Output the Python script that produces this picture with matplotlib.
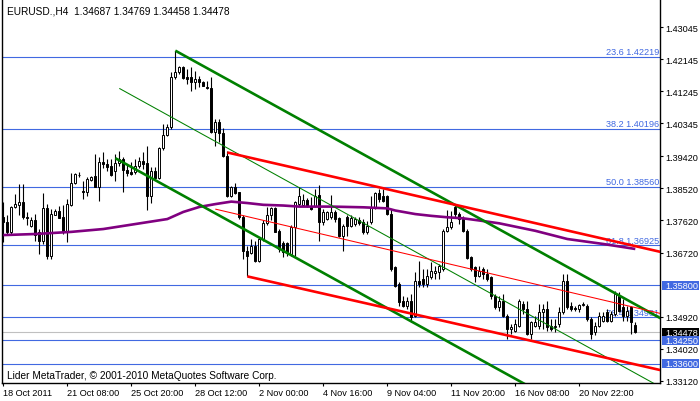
import numpy as np
import matplotlib
matplotlib.use("Agg")
import matplotlib.pyplot as plt
import matplotlib.transforms as mtransforms
from matplotlib.patches import Rectangle


# ── data (EURUSD H4) ─────────────────────────────────────────────────────────
opens = [
    1.3771, 1.3757, 1.3729, 1.3799, 1.3806, 1.3813, 1.3771, 1.3746, 1.3762, 1.3729,
    1.3705, 1.3796, 1.3663, 1.3777, 1.3788, 1.3771, 1.3729, 1.3806, 1.3867, 1.3890,
    1.3846, 1.3843, 1.3877, 1.3888, 1.3857, 1.3925, 1.3921, 1.3916, 1.3902, 1.3923,
    1.3935, 1.3904, 1.3897, 1.3897, 1.3916, 1.3930, 1.3924, 1.3832, 1.3900, 1.3881,
    1.3965, 1.4002, 1.4024, 1.4164, 1.4178, 1.4192, 1.4164, 1.4164, 1.4152, 1.4159,
    1.4152, 1.4138, 1.4133, 1.4010, 1.4038, 1.4008, 1.3944, 1.3832, 1.3855, 1.3841,
    1.3771, 1.3675, 1.3672, 1.3691, 1.3649, 1.3710, 1.3755, 1.3776, 1.3796, 1.3733,
    1.3698, 1.3698, 1.3668, 1.3743, 1.3808, 1.3806, 1.3820, 1.3804, 1.3804, 1.3834,
    1.3757, 1.3766, 1.3771, 1.3785, 1.3768, 1.3719, 1.3771, 1.3747, 1.3752, 1.3762,
    1.3757, 1.3729, 1.3757, 1.3799, 1.3839, 1.3832, 1.3832, 1.3780, 1.3630, 1.3584,
    1.3537, 1.3523, 1.3537, 1.3495, 1.3593, 1.3598, 1.3584, 1.3602, 1.3614, 1.3616,
    1.3626, 1.3733, 1.3743, 1.3799, 1.3780, 1.3766, 1.3733, 1.3659, 1.3630, 1.3607,
    1.3626, 1.3612, 1.3602, 1.3551, 1.3518, 1.3537, 1.3495, 1.3457, 1.3453, 1.3467,
    1.3528, 1.3514, 1.3443, 1.3467, 1.3465, 1.3504, 1.3514, 1.3467, 1.3462, 1.3471,
    1.3504, 1.3593, 1.3523, 1.3516, 1.3514, 1.3525, 1.3523, 1.3485, 1.3448, 1.3467,
    1.3481, 1.3504, 1.3481, 1.3500, 1.3551, 1.3518, 1.3495, 1.3518, 1.34687,
]
highs = [
    1.3813, 1.3776, 1.3804, 1.3836, 1.3865, 1.3865, 1.3785, 1.3771, 1.3780, 1.3738,
    1.3838, 1.3808, 1.3794, 1.3794, 1.3804, 1.3806, 1.3822, 1.3894, 1.3895, 1.3897,
    1.3874, 1.3883, 1.3888, 1.3949, 1.3939, 1.3953, 1.3935, 1.3935, 1.3949, 1.3958,
    1.3939, 1.3921, 1.3925, 1.3935, 1.3939, 1.3953, 1.3970, 1.3911, 1.3911, 1.3967,
    1.4033, 1.4033, 1.4178, 1.4239, 1.4197, 1.4197, 1.4187, 1.4192, 1.4183, 1.4169,
    1.4155, 1.4155, 1.4164, 1.4047, 1.4047, 1.4021, 1.3958, 1.3860, 1.3867, 1.3843,
    1.3776, 1.3691, 1.3710, 1.3705, 1.3715, 1.3762, 1.3799, 1.3799, 1.3799, 1.3738,
    1.3705, 1.3701, 1.3748, 1.3818, 1.3855, 1.3837, 1.3824, 1.3827, 1.3851, 1.3862,
    1.3794, 1.3790, 1.3834, 1.3792, 1.3771, 1.3752, 1.3776, 1.3776, 1.3771, 1.3771,
    1.3766, 1.3761, 1.3832, 1.3841, 1.3850, 1.3850, 1.3834, 1.3794, 1.3635, 1.3588,
    1.3551, 1.3546, 1.3556, 1.3616, 1.3649, 1.3626, 1.3626, 1.3645, 1.3635, 1.3640,
    1.3738, 1.3792, 1.3790, 1.3808, 1.3785, 1.3775, 1.3738, 1.3663, 1.3635, 1.3635,
    1.3630, 1.3626, 1.3607, 1.3556, 1.3551, 1.3556, 1.3500, 1.3471, 1.3485, 1.3542,
    1.3537, 1.3537, 1.3481, 1.3495, 1.3528, 1.3528, 1.3537, 1.3485, 1.3485, 1.3518,
    1.3612, 1.3612, 1.3532, 1.3523, 1.3528, 1.3532, 1.3528, 1.3490, 1.3476, 1.3504,
    1.3504, 1.3514, 1.3509, 1.3565, 1.3560, 1.3542, 1.3523, 1.3523, 1.34769,
]
lows = [
    1.3701, 1.3724, 1.3724, 1.3796, 1.3776, 1.3766, 1.3748, 1.3743, 1.3705, 1.3668,
    1.3696, 1.3654, 1.3654, 1.3776, 1.3768, 1.3724, 1.3701, 1.3804, 1.3865, 1.3883,
    1.3822, 1.3832, 1.3874, 1.3855, 1.3818, 1.3909, 1.3902, 1.3888, 1.3874, 1.3916,
    1.3843, 1.3888, 1.3890, 1.3893, 1.3909, 1.3907, 1.3792, 1.3811, 1.3878, 1.3879,
    1.3960, 1.4000, 1.4020, 1.4160, 1.4173, 1.4159, 1.4145, 1.4127, 1.4131, 1.4136,
    1.4139, 1.4131, 1.4008, 1.3972, 1.3982, 1.3939, 1.3827, 1.3827, 1.3837, 1.3766,
    1.3654, 1.3605, 1.3668, 1.3646, 1.3646, 1.3705, 1.3748, 1.3762, 1.3729, 1.3673,
    1.3659, 1.3663, 1.3663, 1.3663, 1.3804, 1.3804, 1.3799, 1.3792, 1.3799, 1.3705,
    1.3748, 1.3762, 1.3766, 1.3757, 1.3715, 1.3677, 1.3719, 1.3743, 1.3747, 1.3750,
    1.3724, 1.3724, 1.3752, 1.3794, 1.3813, 1.3813, 1.3778, 1.3621, 1.3574, 1.3523,
    1.3518, 1.3513, 1.3478, 1.3490, 1.3574, 1.3574, 1.3574, 1.3598, 1.3598, 1.3598,
    1.3621, 1.3729, 1.3738, 1.3771, 1.3752, 1.3729, 1.3654, 1.3621, 1.3588, 1.3602,
    1.3598, 1.3593, 1.3542, 1.3513, 1.3509, 1.3490, 1.3429, 1.3443, 1.3448, 1.3462,
    1.3500, 1.3439, 1.3429, 1.3462, 1.3457, 1.3457, 1.3453, 1.3453, 1.3448, 1.3462,
    1.3500, 1.3514, 1.3509, 1.3509, 1.3504, 1.3521, 1.3481, 1.3429, 1.3439, 1.3462,
    1.3476, 1.3476, 1.3476, 1.3495, 1.3504, 1.3481, 1.3481, 1.3443, 1.34458,
]
closes = [
    1.3757, 1.3729, 1.3799, 1.3808, 1.3813, 1.3771, 1.3768, 1.3762, 1.3721, 1.3705,
    1.3796, 1.3663, 1.3780, 1.3790, 1.3770, 1.3729, 1.3808, 1.3867, 1.3893, 1.3890,
    1.3841, 1.3879, 1.3883, 1.3857, 1.3925, 1.3921, 1.3911, 1.3890, 1.3923, 1.3935,
    1.3904, 1.3895, 1.3893, 1.3916, 1.3930, 1.3921, 1.3832, 1.3900, 1.3881, 1.3965,
    1.4002, 1.4024, 1.4164, 1.4178, 1.4192, 1.4161, 1.4159, 1.4152, 1.4159, 1.4152,
    1.4141, 1.4133, 1.4010, 1.4038, 1.4008, 1.3942, 1.3832, 1.3855, 1.3840, 1.3771,
    1.3675, 1.3663, 1.3691, 1.3649, 1.3710, 1.3755, 1.3776, 1.3796, 1.3731, 1.3682,
    1.3673, 1.3671, 1.3743, 1.3813, 1.3832, 1.3820, 1.3804, 1.3794, 1.3832, 1.3757,
    1.3785, 1.3787, 1.3785, 1.3766, 1.3719, 1.3747, 1.3747, 1.3768, 1.3766, 1.3754,
    1.3729, 1.3747, 1.3799, 1.3839, 1.3822, 1.3818, 1.3780, 1.3626, 1.3579, 1.3532,
    1.3521, 1.3537, 1.3490, 1.3593, 1.3584, 1.3584, 1.3607, 1.3621, 1.3621, 1.3635,
    1.3733, 1.3743, 1.3757, 1.3780, 1.3766, 1.3733, 1.3656, 1.3626, 1.3607, 1.3621,
    1.3612, 1.3598, 1.3551, 1.3518, 1.3537, 1.3495, 1.3457, 1.3462, 1.3471, 1.3537,
    1.3514, 1.3443, 1.3476, 1.3476, 1.3504, 1.3514, 1.3462, 1.3457, 1.3467, 1.3504,
    1.3593, 1.3518, 1.3514, 1.3514, 1.3525, 1.3528, 1.3485, 1.3443, 1.3467, 1.3495,
    1.3495, 1.3481, 1.3500, 1.3556, 1.3509, 1.3495, 1.3509, 1.3476, 1.34478,
]

# moving average (purple), read at a few bars
ma_idx = [0, 8, 17, 25, 33, 41, 45, 49, 53, 57, 61, 65, 70, 74, 82, 90, 96, 98,
          103, 107, 111, 115, 119, 124, 133, 141, 150, 158]
ma_val = [1.3721, 1.3724, 1.3730, 1.3738, 1.3752, 1.3766, 1.3786, 1.3800, 1.3808,
          1.3815, 1.3811, 1.3806, 1.3804, 1.3801, 1.3801, 1.3799, 1.3796, 1.3790,
          1.3780, 1.3775, 1.3771, 1.3768, 1.3762, 1.3754, 1.3733, 1.3710, 1.3696,
          1.3682]

# fibo + horizontal lines
fib_levels = [23.6, 38.2, 50.0, 61.8, 76.4]
fib_prices = [1.42219, 1.40196, 1.38560, 1.36925, 1.34901]
hline_prices = [1.35800, 1.34250, 1.33600]
last_price = 1.34478

# trend lines: (bar index pair, price pair)
green_top = ([43, 165], [1.4239, 1.3483])
green_bot = ([28, 135], [1.3937, 1.3274])
green_mid = ([29, 164], [1.4133, 1.3296])
red_top = ([56, 165], [1.3953, 1.3672])
red_bot = ([61, 165], [1.3605, 1.3340])
red_mid = ([53, 165], [1.3794, 1.3499])

price_ticks = [1.43045, 1.42145, 1.41245, 1.40345, 1.39420, 1.38520,
               1.37620, 1.36720, 1.34920, 1.34020, 1.33120]
time_tick_idx = [0, 16, 32, 48, 64, 80, 96, 112, 128, 144]
time_tick_labels = ["18 Oct 2011", "21 Oct 08:00", "25 Oct 20:00", "28 Oct 12:00",
                    "2 Nov 00:00", "4 Nov 16:00", "9 Nov 04:00", "11 Nov 20:00",
                    "16 Nov 08:00", "20 Nov 22:00"]

title_text = "EURUSD.,H4  1.34687 1.34769 1.34458 1.34478"
footer_text = "Lider MetaTrader, \u00a9 2001-2010 MetaQuotes Software Corp."


# ── plot ──────────────────────────────────────────────────────────────────────
FONT = "Liberation Sans"
FS = 6.6
FS_BIG = 7.3
BLUE = "#4169E1"

plt.rcParams["font.family"] = [FONT, "DejaVu Sans"]

fig = plt.figure(figsize=(7.0, 4.02), dpi=100)
ax = fig.add_axes([2 / 700, 18 / 402, 658 / 700, 384 / 402])
ax.set_xlim(-0.325, 164.175)
ax.set_ylim(1.33056, 1.43840)

o = np.array(opens)
h = np.array(highs)
l = np.array(lows)
c = np.array(closes)
x = np.arange(len(c))

# horizontal lines
for p in fib_prices + hline_prices:
    ax.axhline(p, color=BLUE, lw=0.8, zorder=1)
ax.axhline(last_price, color="#c0c0c0", lw=0.8, zorder=1)

for lvl, p in zip(fib_levels, fib_prices):
    ax.text(163.9, p + 0.0002, f"{lvl:.1f} {p:.5f}", color=BLUE, fontsize=FS,
            ha="right", va="bottom", zorder=1)

# candles
ax.vlines(x, l, h, color="black", lw=0.8, zorder=2)
up = c >= o
ax.bar(x, np.abs(c - o), bottom=np.minimum(o, c), width=0.5,
       color=np.where(up, "white", "black"), edgecolor="black",
       linewidth=0.7, zorder=3)

# moving average
ax.plot(ma_idx, ma_val, color="#800080", lw=1.9, zorder=4, solid_capstyle="butt")

# trend lines
for ln, col, lw in [(green_top, "#008000", 1.9), (green_bot, "#008000", 1.9),
                    (green_mid, "#008000", 0.75), (red_top, "#ff0000", 1.9),
                    (red_bot, "#ff0000", 1.9), (red_mid, "#ff0000", 0.75)]:
    ax.plot(ln[0], ln[1], color=col, lw=lw, zorder=5, solid_capstyle="butt")

# axes look
ax.spines["top"].set_visible(False)
for s in ["left", "right", "bottom"]:
    ax.spines[s].set_linewidth(1.0)
    ax.spines[s].set_color("black")

ax.yaxis.tick_right()
ax.set_yticks(price_ticks)
ax.set_yticklabels([f"{p:.5f}" for p in price_ticks])
ax.tick_params(axis="y", length=2.2, width=0.8, pad=2.0, labelsize=FS)

ax.set_xticks(time_tick_idx)
ax.set_xticklabels(time_tick_labels)
for lbl in ax.get_xticklabels():
    lbl.set_horizontalalignment("left")
ax.tick_params(axis="x", length=2.2, width=0.8, pad=1.5, labelsize=FS)

# price boxes on the right scale
trans = mtransforms.blended_transform_factory(ax.transAxes, ax.transData)
for p, col in [(1.35800, BLUE), (last_price, "black"), (1.34250, BLUE), (1.33600, BLUE)]:
    ax.add_patch(Rectangle((1.0026, p - 0.00126), 0.0567, 0.00252, transform=trans,
                           facecolor=col, edgecolor="none", clip_on=False, zorder=6))
    ax.text(1.0075, p, f"{p:.5f}", transform=trans, color="white", fontsize=FS,
            ha="left", va="center", clip_on=False, zorder=7)

fig.text(7 / 700, 1 - 11 / 402, title_text, fontsize=FS_BIG, ha="left", va="center",
         bbox=dict(facecolor="white", edgecolor="none", pad=1.0))
ax.text(5 / 658, (384 - 376) / 384, footer_text, transform=ax.transAxes,
        fontsize=FS_BIG, ha="left", va="center", zorder=8)

fig.savefig("out.png", dpi=100)
